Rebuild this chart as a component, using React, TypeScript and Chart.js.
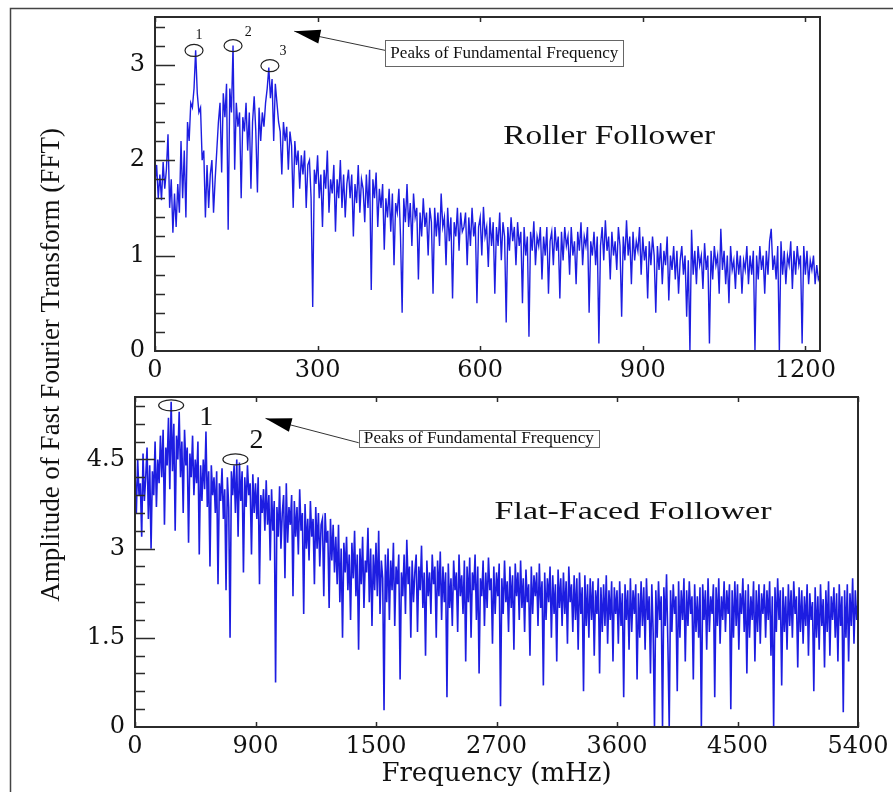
import React, { useEffect, useRef } from 'react';
import { Chart, registerables } from 'chart.js';

Chart.register(...registerables);

// ---------------- DATA ----------------
// Roller follower: FFT amplitude sampled every 3 mHz from 0 mHz
const rollerStep = 3;
const rollerAmp = [
  1.75, 1.95, 1.6, 1.85, 1.58, 1.98, 1.7, 1.9, 2.27, 1.5,
  1.8, 1.24, 1.65, 1.3, 1.75, 1.45, 2.2, 1.6, 2.1, 1.4,
  2.4, 2.2, 2.6, 2.55, 2.75, 3.15, 2.7, 2.5, 2.55, 2.0,
  2.1, 1.4, 1.95, 1.5, 1.85, 2.0, 1.45, 1.8, 2.1, 2.4,
  2.6, 1.87, 2.7, 2.45, 2.8, 1.27, 2.75, 2.5, 3.2, 1.9,
  2.6, 2.35, 2.5, 1.6, 2.45, 2.3, 2.6, 2.1, 2.5, 1.7,
  2.4, 2.67, 2.3, 1.66, 2.55, 2.2, 2.5, 2.35, 2.6, 2.75,
  2.97, 2.65, 2.85, 2.2, 2.8, 2.6, 2.4, 2.3, 1.85, 2.4,
  2.2, 2.35, 1.9, 2.3, 2.15, 1.5, 2.2, 1.95, 2.1, 1.7,
  2.05, 1.85, 2.1, 1.5, 1.95, 2.0, 1.6, 0.46, 1.9, 1.75,
  2.05, 1.6, 1.85, 1.3, 1.9, 1.7, 2.1, 1.45, 1.8, 1.65,
  1.95, 1.25, 1.8, 1.6, 2.0, 1.5, 1.85, 1.4, 1.75, 1.9,
  1.6, 1.85, 1.2, 1.75, 1.55, 1.95, 1.45, 1.8, 1.7, 1.35,
  1.85, 1.5, 1.9, 0.64, 1.8, 1.6, 1.87, 1.3, 1.7, 1.5,
  1.75, 1.06, 1.6, 1.4, 1.7, 1.25, 1.65, 0.9, 1.55, 1.45,
  1.7, 1.2, 0.4, 1.6, 1.35, 1.75, 1.3, 1.55, 1.1, 1.65,
  1.4, 1.5, 0.75, 1.45, 1.2, 1.6, 1.3, 1.45, 1.0, 1.5,
  1.35, 0.6, 1.5, 1.2, 1.45, 1.1, 1.65, 1.3, 1.4, 0.9,
  1.5, 1.15, 1.4, 0.55, 1.35, 1.2, 1.5, 1.05, 1.45, 1.25,
  1.3, 1.45, 0.9, 1.4, 1.1, 1.5, 1.2, 1.35, 0.5, 1.3,
  1.4, 1.0, 1.51, 1.2, 1.3, 0.88, 1.4, 1.1, 1.35, 0.6,
  1.3, 1.1, 1.45, 0.95, 1.35, 1.2, 0.3, 1.3, 1.05, 1.4,
  1.15, 1.3, 0.9, 1.35, 1.1, 1.25, 0.5, 1.3, 1.0, 1.2,
  0.15, 1.25, 1.05, 1.36, 0.9, 1.2, 1.1, 1.3, 0.75, 1.2,
  1.0, 1.3, 0.6, 1.15, 1.25, 0.9, 1.3, 1.05, 1.2, 0.55,
  1.25, 0.95, 1.3, 1.1, 1.2, 0.8, 1.3, 1.0, 1.15, 0.7,
  1.25, 1.05, 1.35, 0.9, 1.2, 1.1, 1.3, 0.4, 1.15, 1.0,
  1.25, 0.9, 1.2, 0.08, 1.1, 1.3, 0.95, 1.37, 1.05, 1.2,
  0.75, 1.25, 1.0, 1.15, 0.85, 1.3, 1.1, 0.36, 1.2, 0.95,
  1.37, 1.0, 1.2, 0.7, 1.25, 0.95, 1.15, 1.05, 1.3, 0.8,
  1.2, 0.95, 1.1, 0.55, 1.15, 0.9, 1.2, 1.0, 0.4, 1.1,
  0.85, 1.13, 0.7, 1.05, 0.9, 1.2, 0.53, 1.0, 0.85, 1.1,
  0.75, 1.05, 0.6, 0.95, 1.1, 0.8, 1.0, 0.36, 0.95, 0.0,
  1.27, 0.8, 1.05, 0.7, 1.1, 0.9, 1.0, 0.65, 1.13, 0.85,
  1.0, 0.08, 1.05, 0.75, 1.1, 0.9, 1.0, 0.6, 1.28, 0.85,
  1.05, 0.7, 1.0, 0.5, 1.1, 0.85, 0.95, 0.65, 1.05, 0.8,
  1.0, 0.6, 0.95, 0.85, 1.1, 0.7, 1.0, 0.8, 1.05, 0.0,
  1.0, 0.75, 1.1, 0.85, 1.0, 0.6, 1.05, 0.8, 1.15, 1.28,
  0.85, 1.0, 0.75, 1.1, 0.0, 1.15, 0.8, 1.05, 0.7, 1.0,
  0.9, 1.15, 0.65, 1.05, 0.8, 1.1, 0.9, 1.0, 0.08, 1.1,
  0.8, 1.05, 0.7, 0.95, 0.85, 1.0, 0.7, 0.9, 0.75, 0.8,
];

// Flat-faced follower: FFT amplitude sampled every 10 mHz from 0 mHz
const flatStep = 10;
const flatAmp = [
  4.3, 3.6, 4.5, 3.9, 4.1, 3.2, 4.6, 3.8, 4.2, 4.7,
  3.5, 4.4, 3.0, 4.3, 3.9, 4.8, 3.7, 4.5, 4.1, 4.9,
  4.2, 5.0, 3.4, 4.7, 4.4, 5.2, 4.0, 5.47, 4.3, 5.1,
  3.3, 4.9, 4.5, 5.3, 4.2, 4.8, 3.6, 5.0, 4.4, 4.7,
  3.1, 4.6, 4.2, 4.9, 3.9, 4.5, 4.1, 4.8, 2.9, 4.4,
  3.8, 4.5, 4.0, 4.97, 3.7, 4.3, 2.7, 4.4, 3.9, 4.2,
  3.6, 4.3, 2.4, 4.1, 3.8, 4.35, 3.5, 4.0, 2.3, 4.2,
  3.7, 1.5, 4.3, 3.9, 4.4, 3.6, 4.5, 3.2, 4.45, 3.8,
  4.3, 2.6, 4.2, 3.7, 4.4, 3.9, 4.1, 2.9, 4.25, 3.6,
  4.1, 3.5, 4.2, 2.4, 3.9, 3.6, 4.0, 3.3, 4.15, 3.4,
  3.9, 2.8, 4.0, 3.3, 3.8, 0.75, 3.7, 3.2, 4.05, 3.0,
  3.6, 3.9, 2.5, 4.1, 3.1, 3.7, 3.4, 3.9, 2.2, 3.8,
  3.2, 3.7, 2.9, 4.0, 3.3, 3.6, 1.9, 3.75, 3.0, 3.5,
  2.8, 3.8, 3.2, 3.5, 2.4, 3.7, 3.0, 3.6, 2.7, 3.4,
  3.5, 2.2, 3.6, 3.1, 3.3, 2.0, 3.5, 2.8, 3.4, 2.6,
  3.2, 2.4, 3.4, 2.1, 3.0, 1.5, 3.1, 2.6, 3.2, 2.3,
  2.9, 1.8, 3.1, 2.5, 3.3, 2.2, 2.9, 1.3, 3.0, 2.4,
  3.2, 2.0, 2.8, 2.6, 3.35, 2.1, 3.0, 1.7, 2.9, 2.3,
  3.1, 2.2, 3.3, 1.9, 2.8, 2.5, 0.28, 2.9, 2.1, 3.0,
  1.8, 2.8, 2.3, 3.1, 1.7, 2.7, 2.4, 2.9, 0.8, 2.6,
  2.2, 2.9, 1.9, 3.15, 2.4, 2.7, 1.5, 2.8, 2.1, 2.6,
  2.9, 1.6, 2.7, 2.3, 3.05, 2.0, 2.6, 1.2, 2.8, 2.2,
  2.6, 1.9, 2.9, 2.4, 2.7, 1.5, 2.8, 2.2, 2.95, 1.8,
  2.7, 2.1, 2.6, 0.5, 2.75, 2.0, 2.5, 1.7, 2.8, 2.3,
  2.6, 1.6, 2.9, 2.2, 2.55, 1.9, 2.8, 1.1, 2.7, 2.1,
  2.85, 1.5, 2.6, 2.3, 2.9, 1.8, 2.7, 0.9, 2.5, 2.2,
  2.8, 1.7, 2.6, 2.0, 2.85, 2.3, 2.5, 1.4, 2.7, 1.9,
  2.6, 2.2, 2.75, 0.35, 2.5, 1.9, 2.8, 2.1, 2.45, 1.6,
  2.7, 2.0, 2.55, 1.3, 2.75, 2.2, 2.6, 1.8, 2.8, 2.0,
  2.5, 1.6, 2.65, 2.1, 2.4, 1.2, 2.7, 1.9, 2.55, 2.2,
  2.6, 1.7, 2.75, 2.0, 2.45, 0.7, 2.6, 1.8, 2.5, 2.1,
  2.7, 1.5, 2.55, 1.9, 2.4, 1.1, 2.65, 2.0, 2.5, 1.7,
  2.6, 1.9, 2.45, 1.4, 2.7, 2.1, 2.4, 1.6, 2.55, 1.8,
  2.5, 1.3, 2.6, 1.9, 2.35, 0.6, 2.55, 1.7, 2.4, 1.5,
  2.5, 1.8, 2.45, 1.2, 2.3, 1.9, 2.5, 0.9, 2.35, 1.6,
  2.4, 1.7, 2.55, 1.4, 2.3, 1.8, 2.45, 1.1, 2.35, 1.9,
  2.3, 1.4, 2.45, 1.7, 2.25, 0.5, 2.4, 1.8, 2.3, 1.3,
  2.5, 1.6, 2.3, 1.9, 2.4, 0.8, 2.25, 1.5, 2.45, 1.7,
  2.35, 1.3, 2.5, 1.8, 2.2, 0.9, 2.4, 1.6, 0.0, 2.3,
  1.5, 2.45, 1.8, 2.2, 0.0, 2.35, 1.7, 2.57, 1.4, 0.0,
  2.3, 1.6, 2.4, 1.9, 2.2, 0.6, 2.45, 1.5, 2.3, 1.8,
  2.5, 1.1, 2.3, 1.7, 2.45, 1.9, 2.2, 0.8, 2.4, 1.6,
  2.2, 1.5, 2.35, 0.0, 2.4, 1.8, 2.3, 1.3, 2.5, 1.6,
  2.2, 1.9, 2.4, 0.5, 2.35, 1.7, 2.5, 1.4, 2.2, 1.8,
  2.45, 1.6, 2.3, 1.9, 2.4, 0.3, 2.3, 1.5, 2.45, 1.7,
  2.4, 1.3, 2.25, 1.9, 2.5, 1.6, 2.3, 0.9, 2.4, 1.5,
  2.2, 1.8, 2.45, 1.1, 2.3, 1.6, 2.4, 1.4, 2.25, 1.9,
  2.4, 1.5, 2.3, 1.8, 2.45, 1.2, 2.2, 0.0, 2.35, 1.6,
  2.5, 1.8, 2.3, 0.7, 2.35, 1.6, 2.2, 1.3, 2.4, 1.7,
  2.3, 1.5, 2.45, 1.9, 2.2, 1.0, 2.35, 1.6, 2.3, 1.4,
  2.2, 1.7, 2.4, 1.2, 2.25, 1.8, 2.1, 0.6, 2.35, 1.5,
  2.2, 1.3, 2.4, 1.7, 2.15, 1.0, 2.3, 1.6, 2.45, 1.2,
  2.2, 1.8, 2.35, 1.5, 2.25, 1.1, 2.4, 1.7, 2.2, 0.25,
  2.3, 1.5, 2.4, 1.1, 2.25, 1.7, 2.5, 1.4, 2.3, 1.8,
  2.1,
];

// Axis ticks and labels
const rollerXTicks = [0, 300, 600, 900, 1200];
const rollerXLabels = ['0', '300', '600', '900', '1200'];
const rollerYTicks = [0, 1, 2, 3];
const rollerYLabels = ['0', '1', '2', '3'];
const flatXTicks = [0, 900, 1800, 2700, 3600, 4500, 5400];
const flatXLabels = ['0', '900', '1500', '2700', '3600', '4500', '5400'];
const flatYTicks = [0, 1.5, 3, 4.5];
const flatYLabels = ['0', '1.5', '3', '4.5'];

// Text
const yTitle = 'Amplitude of Fast Fourier Transform (FFT)';
const xTitle = 'Frequency (mHz)';
const rollerName = 'Roller Follower';
const flatName = 'Flat-Faced Follower';
const peakNote = 'Peaks of Fundamental Frequency';
const rollerPeaks = [
  { x: 72, y: 3.15, label: '1', lx: 81, ly: 3.31 },
  { x: 144, y: 3.2, label: '2', lx: 172, ly: 3.34 },
  { x: 212, y: 2.99, label: '3', lx: 236, ly: 3.14 },
];
const flatPeaks = [
  { x: 270, y: 5.41, label: '1', lx: 532, ly: 5.21 },
  { x: 750, y: 4.5, label: '2', lx: 907, ly: 4.82 },
];

// ---------------- STYLE ----------------
const W = 893;
const H = 792;
const LINE = 'rgba(10,10,222,0.92)';
const TICK_FONT = "'DejaVu Serif', serif";
const SERIF = "'Liberation Serif', 'Times New Roman', serif";
const INK = '#111';

function fitText(ctx: CanvasRenderingContext2D, text: string, cx: number, cy: number, size: number, width: number | null, rotate = 0) {
  ctx.save();
  ctx.font = `${size}px ${SERIF}`;
  ctx.fillStyle = INK;
  ctx.textAlign = 'center';
  ctx.textBaseline = 'middle';
  ctx.translate(cx, cy);
  if (rotate) ctx.rotate(rotate);
  if (width) {
    const w = ctx.measureText(text).width;
    ctx.scale(width / w, 1);
  }
  ctx.fillText(text, 0, 0);
  ctx.restore();
}

const decoPlugin = {
  id: 'panelDeco',
  afterDatasetsDraw(chart: any, _args: any, o: any) {
    const { ctx, chartArea: a } = chart;
    const xs = chart.scales.x;
    const ys = chart.scales.y;
    ctx.save();
    // frame
    ctx.strokeStyle = '#2b2b2b';
    ctx.lineWidth = 2;
    ctx.strokeRect(a.left, a.top, a.right - a.left, a.bottom - a.top);
    // y ticks (inside)
    ctx.lineWidth = 1.5;
    ctx.beginPath();
    for (let k = 1; k * o.yMinor < ys.max - 1e-9; k++) {
      const v = k * o.yMinor;
      const isMajor = o.yMajor.some((m: number) => Math.abs(m - v) < 1e-6);
      const py = Math.round(ys.getPixelForValue(v)) + 0.5;
      ctx.moveTo(a.left, py);
      ctx.lineTo(a.left + (isMajor ? 20 : 10), py);
    }
    // x ticks on top and bottom
    o.xMajor.forEach((v: number) => {
      const px = Math.round(xs.getPixelForValue(v)) + 0.5;
      ctx.moveTo(px, a.top);
      ctx.lineTo(px, a.top + 5);
      ctx.moveTo(px, a.bottom);
      ctx.lineTo(px, a.bottom - 5);
    });
    ctx.stroke();

    // peak ellipses and numbers
    ctx.strokeStyle = '#222';
    ctx.lineWidth = 1.2;
    o.peaks.forEach((p: any) => {
      ctx.beginPath();
      ctx.ellipse(xs.getPixelForValue(p.x), ys.getPixelForValue(p.y), o.ell[0], o.ell[1], 0, 0, Math.PI * 2);
      ctx.stroke();
      fitText(ctx, p.label, xs.getPixelForValue(p.lx), ys.getPixelForValue(p.ly), o.numSize, null);
    });

    // arrow
    const tx = xs.getPixelForValue(o.arrow.tip[0]);
    const ty = ys.getPixelForValue(o.arrow.tip[1]);
    const sx = xs.getPixelForValue(o.arrow.tail[0]);
    const sy = ys.getPixelForValue(o.arrow.tail[1]);
    const ang = Math.atan2(ty - sy, tx - sx);
    ctx.strokeStyle = '#333';
    ctx.lineWidth = 1;
    ctx.beginPath();
    ctx.moveTo(sx, sy);
    ctx.lineTo(tx, ty);
    ctx.stroke();
    ctx.fillStyle = '#000';
    ctx.beginPath();
    ctx.moveTo(tx, ty);
    ctx.lineTo(tx - 26 * Math.cos(ang) + 7 * Math.sin(ang), ty - 26 * Math.sin(ang) - 7 * Math.cos(ang));
    ctx.lineTo(tx - 26 * Math.cos(ang) - 7 * Math.sin(ang), ty - 26 * Math.sin(ang) + 7 * Math.cos(ang));
    ctx.closePath();
    ctx.fill();

    // note box
    const bx0 = xs.getPixelForValue(o.box[0]);
    const bx1 = xs.getPixelForValue(o.box[1]);
    const by0 = ys.getPixelForValue(o.box[2]);
    const by1 = ys.getPixelForValue(o.box[3]);
    ctx.fillStyle = '#fff';
    ctx.fillRect(bx0, by0, bx1 - bx0, by1 - by0);
    ctx.strokeStyle = '#666';
    ctx.lineWidth = 1;
    ctx.strokeRect(Math.round(bx0) + 0.5, Math.round(by0) + 0.5, Math.round(bx1 - bx0), Math.round(by1 - by0));
    fitText(ctx, peakNote, (bx0 + bx1) / 2, (by0 + by1) / 2 + 1, 16, bx1 - bx0 - 10);

    // panel name
    fitText(ctx, o.name, xs.getPixelForValue(o.nameAt[0]), ys.getPixelForValue(o.nameAt[1]), o.nameSize, o.nameWidth);

    // page-level decorations
    if (o.page) {
      ctx.strokeStyle = '#444';
      ctx.lineWidth = 1.5;
      ctx.beginPath();
      ctx.moveTo(10.5, H + 5);
      ctx.lineTo(10.5, 8.5);
      ctx.lineTo(W + 5, 8.5);
      ctx.stroke();
      fitText(ctx, yTitle, 52, 365, 27, null, -Math.PI / 2);
    }
    ctx.restore();
  },
};

function panelConfig(p: any) {
  return {
    type: 'line',
    data: {
      datasets: [
        {
          data: p.amp.map((v: number, i: number) => ({ x: i * p.step, y: v })),
          borderColor: LINE,
          borderWidth: p.lineWidth,
          pointRadius: 0,
          tension: 0,
          fill: false,
        },
      ],
    },
    options: {
      responsive: false,
      animation: false,
      events: [],
      layout: { padding: p.padding },
      plugins: {
        legend: { display: false },
        tooltip: { enabled: false },
        panelDeco: p.deco,
      },
      scales: {
        x: {
          type: 'linear',
          min: 0,
          max: p.xMax,
          afterBuildTicks: (s: any) => {
            s.ticks = p.xTicks.map((v: number) => ({ value: v }));
          },
          afterFit: (s: any) => {
            s.height = p.xAxisH;
            s.paddingLeft = 0;
            s.paddingRight = 0;
          },
          grid: { display: false, drawTicks: false },
          border: { display: false },
          ticks: {
            autoSkip: false,
            maxRotation: 0,
            padding: 5,
            color: INK,
            font: { family: TICK_FONT, size: 24 },
            callback: (_v: any, i: number) => p.xLabels[i],
          },
          title: p.xTitle,
        },
        y: {
          type: 'linear',
          min: 0,
          max: p.yMax,
          afterBuildTicks: (s: any) => {
            s.ticks = p.yTicks.map((v: number) => ({ value: v }));
          },
          afterFit: (s: any) => {
            s.width = 70;
            s.paddingTop = 0;
            s.paddingBottom = 0;
          },
          grid: { display: false, drawTicks: false },
          border: { display: false },
          ticks: {
            padding: 10,
            color: INK,
            font: { family: TICK_FONT, size: 24 },
            callback: (_v: any, i: number) => p.yLabels[i],
          },
        },
      },
    },
    plugins: [decoPlugin],
  };
}

export default function App() {
  const topRef = useRef<HTMLCanvasElement>(null);
  const botRef = useRef<HTMLCanvasElement>(null);

  useEffect(() => {
    const bottom = new Chart(
      botRef.current as HTMLCanvasElement,
      panelConfig({
        amp: flatAmp,
        step: flatStep,
        lineWidth: 1.6,
        xMax: 5400,
        yMax: 5.55,
        xTicks: flatXTicks,
        xLabels: flatXLabels,
        yTicks: flatYTicks,
        yLabels: flatYLabels,
        xAxisH: 65,
        padding: { left: 65, right: 35, top: 397, bottom: 0 },
        xTitle: {
          display: true,
          text: xTitle,
          color: INK,
          font: { family: TICK_FONT, size: 26 },
          padding: { top: 0, bottom: 2 },
        },
        deco: {
          yMinor: 0.3,
          yMajor: flatYTicks,
          xMajor: flatXTicks,
          peaks: flatPeaks,
          ell: [12.5, 5.5],
          numSize: 28,
          arrow: { tip: [975, 5.19], tail: [1672, 4.78] },
          box: [1672, 3465, 5.0, 4.72],
          name: flatName,
          nameAt: [3720, 3.62],
          nameSize: 26,
          nameWidth: 277,
          page: false,
        },
      }) as any
    );
    const top = new Chart(
      topRef.current as HTMLCanvasElement,
      panelConfig({
        amp: rollerAmp,
        step: rollerStep,
        lineWidth: 1.4,
        xMax: 1227,
        yMax: 3.5,
        xTicks: rollerXTicks,
        xLabels: rollerXLabels,
        yTicks: rollerYTicks,
        yLabels: rollerYLabels,
        xAxisH: 40,
        padding: { left: 85, right: 73, top: 17, bottom: 401 },
        xTitle: { display: false },
        deco: {
          yMinor: 0.2,
          yMajor: rollerYTicks,
          xMajor: rollerXTicks,
          peaks: rollerPeaks,
          ell: [9, 6],
          numSize: 14,
          arrow: { tip: [257, 3.35], tail: [425, 3.15] },
          box: [425, 864, 3.26, 2.99],
          name: rollerName,
          nameAt: [838, 2.24],
          nameSize: 27,
          nameWidth: 212,
          page: true,
        },
      }) as any
    );
    return () => {
      top.destroy();
      bottom.destroy();
    };
  }, []);

  return (
    <div style={{ position: 'absolute', left: 0, top: 0, width: W, height: H, background: '#fff', overflow: 'hidden' }}>
      <canvas ref={botRef} width={W} height={H} style={{ position: 'absolute', left: 0, top: 0, width: W, height: H }} />
      <canvas ref={topRef} width={W} height={H} style={{ position: 'absolute', left: 0, top: 0, width: W, height: H }} />
    </div>
  );
}
